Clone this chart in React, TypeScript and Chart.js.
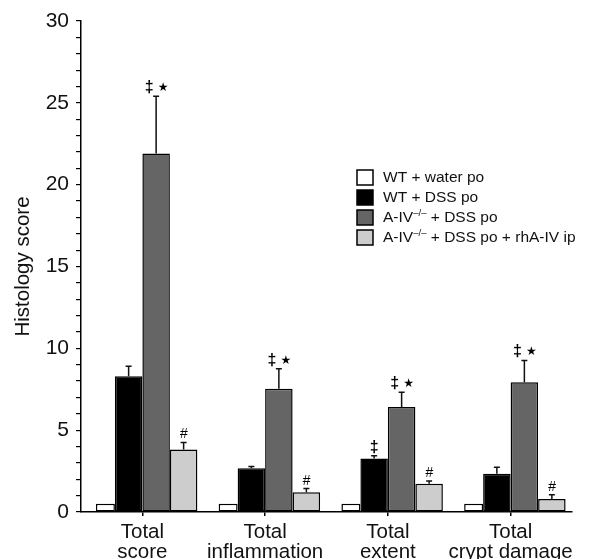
import React, { useEffect, useRef } from "react";
import { Chart, registerables } from "chart.js";
Chart.register(...registerables);

const categories = [["Total", "score"], ["Total", "inflammation"], ["Total", "extent"], ["Total", "crypt damage"]];
const seriesLabels = ["WT + water po", "WT + DSS po", "A-IV^{–/–} + DSS po", "A-IV^{–/–} + DSS po + rhA-IV ip"];
const seriesColors = ["#ffffff", "#000000", "#656565", "#cdcdcd"];
const wtWater = [0.5, 0.5, 0.5, 0.5];
const wtDss = [8.3, 2.68, 3.27, 2.33];
const aivDss = [21.9, 7.53, 6.42, 7.93];
const aivRescue = [3.82, 1.21, 1.72, 0.8];
const wtWaterErr = [0, 0, 0, 0];
const wtDssErr = [0.6, 0.1, 0.16, 0.41];
const aivDssErr = [3.5, 1.22, 0.9, 1.33];
const aivRescueErr = [0.43, 0.22, 0.18, 0.26];
const wtWaterMarks = ["", "", "", ""];
const wtDssMarks = ["", "", "‡", ""];
const aivDssMarks = ["‡ *", "‡ *", "‡ *", "‡ *"];
const aivRescueMarks = ["#", "#", "#", "#"];
const yTickLabels = [0, 5, 10, 15, 20, 25, 30];

const FONT = "'Liberation Sans', Arial, Helvetica, sans-serif";

const allValues = [wtWater, wtDss, aivDss, aivRescue];
const allErrs = [wtWaterErr, wtDssErr, aivDssErr, aivRescueErr];
const allMarks = [wtWaterMarks, wtDssMarks, aivDssMarks, aivRescueMarks];
const barPercents = [0.69, 1, 1, 1];

function drawRich(ctx: CanvasRenderingContext2D, text: string, x: number, y: number, size: number) {
  const parts = text.split(/(\^\{[^}]*\})/);
  let cx = x;
  for (const p of parts) {
    if (!p) continue;
    if (p.startsWith("^{")) {
      const t = p.slice(2, -1);
      ctx.font = `${size * 0.62}px ${FONT}`;
      ctx.fillText(t, cx, y - size * 0.33);
      cx += ctx.measureText(t).width;
    } else {
      ctx.font = `${size}px ${FONT}`;
      ctx.fillText(p, cx, y);
      cx += ctx.measureText(p).width;
    }
  }
}

const overlayPlugin = {
  id: "overlay",
  afterDatasetsUpdate(chart: any) {
    // the narrow control bar sits flush against the neighbouring bar
    const white = chart.getDatasetMeta(0).data;
    const black = chart.getDatasetMeta(1).data;
    white.forEach((w: any, j: number) => {
      const b = black[j];
      if (b) w.x = b.x - b.width / 2 - w.width / 2;
    });
  },
  afterDatasetsDraw(chart: any) {
    const ctx = chart.ctx as CanvasRenderingContext2D;
    const yScale = chart.scales.y;
    ctx.save();
    chart.data.datasets.forEach((ds: any, i: number) => {
      const meta = chart.getDatasetMeta(i);
      meta.data.forEach((bar: any, j: number) => {
        const v = allValues[i][j];
        const e = allErrs[i][j];
        const top = yScale.getPixelForValue(v + e);
        if (e > 0) {
          ctx.strokeStyle = "#111";
          ctx.lineWidth = 1.5;
          ctx.beginPath();
          ctx.moveTo(bar.x, bar.y);
          ctx.lineTo(bar.x, top);
          ctx.moveTo(bar.x - 3, top);
          ctx.lineTo(bar.x + 3, top);
          ctx.stroke();
        }
        const m = allMarks[i][j];
        if (m) {
          ctx.fillStyle = "#000";
          ctx.textBaseline = "alphabetic";
          ctx.textAlign = "center";
          const base = top - 4;
          if (m === "#") {
            ctx.font = `italic 14px ${FONT}`;
            ctx.fillText("#", bar.x, base);
          } else if (m === "‡") {
            ctx.font = `bold 16px ${FONT}`;
            ctx.fillText("‡", bar.x, base);
          } else {
            ctx.font = `bold 16px ${FONT}`;
            ctx.fillText("‡", bar.x - 7, base);
            ctx.font = `12px 'DejaVu Sans', sans-serif`;
            ctx.fillText("★", bar.x + 7, base - 1);
          }
        }
      });
    });
    ctx.restore();
  },
  afterDraw(chart: any) {
    const ctx = chart.ctx as CanvasRenderingContext2D;
    const ca = chart.chartArea;
    const bx = ca.left + 276;
    const by = ca.top + 149;
    ctx.save();
    seriesLabels.forEach((lab, i) => {
      const y = by + i * 20;
      ctx.fillStyle = seriesColors[i];
      ctx.fillRect(bx, y, 16, 15);
      ctx.strokeStyle = "#000";
      ctx.lineWidth = 1.5;
      ctx.strokeRect(bx, y, 16, 15);
      ctx.fillStyle = "#111";
      ctx.textAlign = "left";
      ctx.textBaseline = "middle";
      drawRich(ctx, lab, bx + 26, y + 8, 15.5);
    });
    ctx.restore();
  },
};

export default function App() {
  const ref = useRef<HTMLCanvasElement | null>(null);
  useEffect(() => {
    if (!ref.current) return;
    const chart = new Chart(ref.current, {
      type: "bar",
      data: {
        labels: categories,
        datasets: allValues.map((vals, i) => ({
          label: seriesLabels[i],
          data: vals,
          backgroundColor: seriesColors[i],
          borderColor: "#000",
          borderWidth: 1.5,
          borderSkipped: false,
          categoryPercentage: 0.896,
          barPercentage: barPercents[i],
        })),
      },
      options: {
        animation: false,
        responsive: false,
        maintainAspectRatio: false,
        layout: { padding: { top: 21, right: 19, left: 0, bottom: 0 } },
        plugins: { legend: { display: false }, tooltip: { enabled: false } },
        scales: {
          x: {
            grid: { display: true, drawOnChartArea: false, offset: false, tickLength: 4, color: "#000", lineWidth: 1.5 },
            border: { display: true, color: "#000", width: 1.5 },
            ticks: { color: "#111", font: { family: FONT, size: 20.5, lineHeight: 0.95 }, padding: 7, maxRotation: 0, autoSkip: false },
            afterFit: (s: any) => { s.height = 47; },
          },
          y: {
            min: 0,
            max: 30,
            grid: { display: true, drawOnChartArea: false, tickLength: 5, color: "#000", lineWidth: 1.2 },
            border: { display: true, color: "#000", width: 1.5 },
            ticks: {
              stepSize: 1,
              autoSkip: false,
              color: "#111",
              font: { family: FONT, size: 21 },
              padding: 7,
              callback: (v: any) => (yTickLabels.includes(Number(v)) ? String(v) : ""),
            },
            title: {
              display: true,
              text: "Histology score",
              color: "#111",
              font: { family: FONT, size: 20.5 },
              padding: { top: 11, bottom: 0 },
            },
            afterFit: (s: any) => { s.width = 81; },
          },
        },
      },
      plugins: [overlayPlugin],
    });
    return () => chart.destroy();
  }, []);
  return (
    <div style={{ position: "absolute", left: 0, top: 0, width: 591, height: 559, background: "#fff" }}>
      <canvas ref={ref} width={591} height={559} style={{ width: 591, height: 559, display: "block" }} />
    </div>
  );
}
